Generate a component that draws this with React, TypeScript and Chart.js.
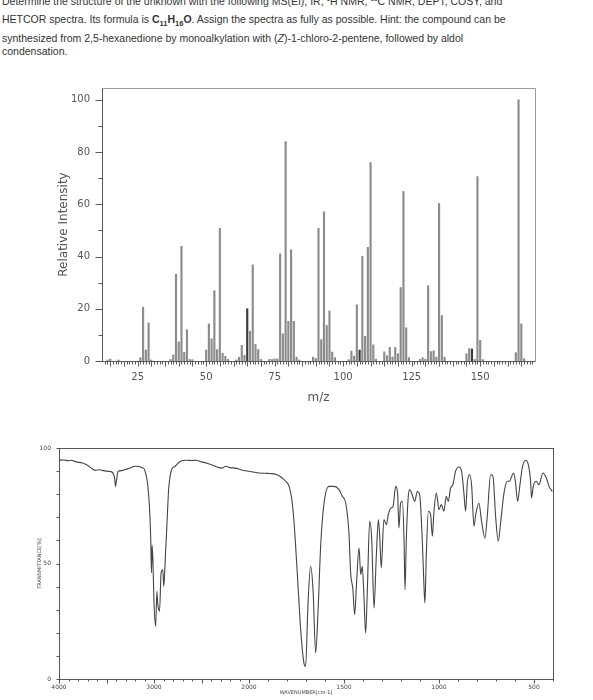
import React, { useEffect, useRef } from 'react';
import { Chart, registerables } from 'chart.js';

Chart.register(...registerables);

// ---------- Mass spectrum (EI) ----------
const msMz = [
  14, 15, 18, 26, 27, 28, 29, 30, 37, 38, 39, 40, 41, 42, 43, 44, 45,
  50, 51, 52, 53, 54, 55, 56, 57, 58, 61, 62, 63, 64, 65, 66, 67, 68, 69, 70,
  73, 74, 75, 76, 77, 78, 79, 80, 81, 82, 83, 84, 89, 90, 91, 92, 93, 94, 95,
  96, 97, 102, 103, 104, 105, 106, 107, 108, 109, 110, 111, 112, 115, 116, 117,
  118, 119, 120, 121, 122, 123, 124, 128, 129, 130, 131, 132, 133, 134, 135,
  136, 137, 145, 146, 147, 148, 149, 150, 151, 163, 164, 165, 166,
];
const msIntensity = [
  0.4, 0.7, 0.4, 1.3, 20.6, 4.2, 14.6, 0.4, 0.6, 2.3, 33.2, 7.3, 43.9, 3.3, 12.0, 0.6, 0.5,
  4.2, 14.2, 8.5, 26.9, 4.4, 50.8, 3.0, 1.8, 0.6, 0.4, 1.4, 6.0, 2.2, 20.0, 11.4, 36.8, 6.4, 4.4, 0.6,
  0.6, 0.6, 0.8, 0.8, 41.0, 10.4, 84.0, 15.2, 42.6, 15.2, 1.5, 0.4, 1.5, 1.0, 50.8, 8.2, 57.1, 13.6, 19.2,
  3.4, 1.3, 0.5, 3.8, 1.9, 21.5, 4.2, 40.1, 9.4, 43.5, 76.0, 6.2, 0.7, 3.5, 2.0, 5.2,
  1.5, 5.2, 2.8, 28.1, 64.9, 12.7, 1.3, 0.6, 1.3, 0.7, 28.8, 3.6, 3.9, 1.5, 60.3,
  17.4, 1.5, 2.8, 4.8, 4.6, 0.6, 70.6, 7.9, 0.5, 3.2, 100, 14.2, 0.9,
];
const msDarkPeaks = [65, 106, 147];
const msXTickLabels = [25, 50, 75, 100, 125, 150];
const msYTickLabels = [0, 20, 40, 60, 80, 100];

// ---------- IR spectrum ----------
const irWavenumber = [
  4000, 3950, 3900, 3873, 3820, 3753, 3700, 3650, 3616, 3580, 3548, 3479, 3440, 3415, 3405, 3395,
  3377, 3340, 3308, 3250, 3200, 3171, 3130, 3103, 3085, 3068, 3048, 3034, 3027, 3020, 3012, 3000,
  2983, 2969, 2962, 2950, 2942, 2925, 2907, 2897, 2880, 2863, 2846, 2830, 2812, 2777, 2726, 2657,
  2600, 2555, 2500, 2452, 2380, 2320, 2281, 2247, 2200, 2144, 2080, 2000, 1947, 1900, 1877, 1850,
  1825, 1800, 1789, 1775, 1763, 1746, 1728, 1711, 1702, 1690, 1676, 1663, 1649, 1637, 1623, 1605,
  1579, 1553, 1526, 1509, 1491, 1474, 1465, 1453, 1444, 1433, 1421, 1412, 1404, 1395, 1386, 1377,
  1365, 1354, 1342, 1330, 1319, 1312, 1304, 1290, 1277, 1267, 1254, 1242, 1228, 1218, 1211, 1202,
  1193, 1184, 1179, 1172, 1163, 1155, 1141, 1128, 1114, 1102, 1088, 1079, 1074, 1067, 1056, 1044,
  1035, 1027, 1014, 1000, 988, 974, 962, 951, 939, 927, 913, 895, 881, 869, 860, 851,
  839, 828, 816, 807, 790, 776, 758, 746, 728, 716, 702, 688, 676, 658, 641, 628,
  618, 606, 597, 586, 576, 562, 544, 530, 518, 513, 504, 488, 474, 453, 435, 421, 404,
];
const irTransmittance = [
  94.7, 94.8, 94.5, 94.7, 94.0, 93.5, 92.5, 91.0, 90.3, 90.6, 90.3, 89.9, 89.5, 87.0, 83.4, 86.0,
  89.9, 90.2, 90.6, 91.3, 92.1, 92.1, 91.5, 90.9, 88.5, 84.8, 74.7, 60.3, 46.0, 58.0, 52.0, 33.0,
  22.8, 38.0, 33.0, 30.0, 29.3, 45.9, 47.3, 40.1, 53.1, 67.5, 82.0, 88.0, 90.9, 92.1, 94.2, 94.7,
  94.6, 94.7, 94.0, 93.5, 92.5, 91.5, 91.3, 92.1, 91.5, 91.3, 90.5, 89.9, 89.2, 89.0, 88.9, 88.3,
  87.0, 85.0, 83.4, 78.0, 68.0, 46.0, 21.4, 6.9, 5.5, 31.5, 48.8, 38.7, 11.3, 28.6, 57.4, 76.2,
  83.4, 83.4, 82.0, 79.1, 76.2, 63.2, 45.9, 38.7, 27.8, 43.0, 56.7, 45.2, 48.8, 35.8, 19.9, 38.7,
  68.3, 60.3, 30.7, 53.1, 69.0, 61.8, 48.1, 69.0, 66.8, 71.1, 74.0, 74.7, 83.4, 80.5, 65.4, 76.2,
  76.9, 60.3, 38.7, 60.3, 77.6, 82.0, 79.8, 76.9, 81.2, 79.8, 60.3, 40.1, 32.9, 53.1, 72.6, 71.1,
  61.8, 71.9, 80.5, 73.3, 75.5, 72.6, 79.1, 76.9, 82.7, 84.1, 89.9, 91.8, 89.9, 80.5, 72.6, 84.8,
  88.5, 83.4, 66.1, 71.1, 76.2, 68.3, 61.0, 70.4, 88.5, 87.7, 70.4, 59.6, 67.5, 80.5, 85.6, 85.6,
  87.7, 89.2, 84.8, 76.9, 82.7, 91.3, 94.7, 92.8, 85.6, 78.4, 83.4, 85.6, 84.1, 89.2, 87.0, 83.4, 81.2,
];
const irXTickLabels = [4000, 3000, 2000, 1500, 1000, 500];
const irYTickLabels = [0, 50, 100];

// IR x axis uses two scales: 4000-2000 compressed 2:1, 2000-400 expanded
const toU = (wn: number) => (wn >= 2000 ? (4000 - wn) / 2 : 1000 + (2000 - wn));
const fromU = (u: number) => (u <= 1000 ? 4000 - 2 * u : 2000 - (u - 1000));

function line(ctx: CanvasRenderingContext2D, x1: number, y1: number, x2: number, y2: number) {
  ctx.beginPath();
  ctx.moveTo(x1, y1);
  ctx.lineTo(x2, y2);
  ctx.stroke();
}

const msDecor = {
  id: 'msDecor',
  afterDraw(chart: any) {
    const { ctx, chartArea: a, scales } = chart;
    const xs = scales.x;
    const ys = scales.y;
    const base = Math.round(ys.getPixelForValue(0)) + 0.5;
    const L = Math.round(a.left) + 0.5;
    const R = Math.round(a.right) + 0.5;
    const T = Math.round(a.top) + 0.5;
    ctx.save();
    ctx.lineWidth = 1;
    ctx.strokeStyle = '#9a9a9a';
    ctx.beginPath();
    ctx.moveTo(L, T);
    ctx.lineTo(R, T);
    ctx.lineTo(R, base);
    ctx.stroke();
    ctx.strokeStyle = '#5a5a5a';
    line(ctx, L, T, L, base);
    line(ctx, L, base, R, base);
    for (let v = 0; v <= 100; v += 10) {
      const y = Math.round(ys.getPixelForValue(v)) + 0.5;
      line(ctx, L - (v % 20 === 0 ? 7 : 4), y, L, y);
    }
    for (let m = 13; m <= 169; m++) {
      const x = Math.round(xs.getPixelForValue(m)) + 0.5;
      line(ctx, x, base, x, base + (m % 5 === 0 ? 5 : 3));
    }
    ctx.restore();
  },
};

const irDecor = {
  id: 'irDecor',
  afterDraw(chart: any) {
    const { ctx, chartArea: a, scales } = chart;
    const xs = scales.x;
    const ys = scales.y;
    const L = Math.round(a.left) + 0.5;
    const R = Math.round(a.right) + 0.5;
    const T = Math.round(a.top) + 0.5;
    const B = Math.round(a.bottom) + 0.5;
    ctx.save();
    ctx.lineWidth = 1;
    ctx.strokeStyle = '#555';
    ctx.strokeRect(L, T, R - L, B - T);
    for (let w = 4000; w >= 400; w -= 100) {
      const x = Math.round(xs.getPixelForValue(toU(w))) + 0.5;
      line(ctx, x, B, x, B + (w % 500 === 0 ? 4 : 2));
    }
    for (let v = 0; v <= 100; v += 10) {
      const y = Math.round(ys.getPixelForValue(v)) + 0.5;
      line(ctx, L - 3, y, L, y);
    }
    ctx.restore();
  },
};

function MsChart() {
  const ref = useRef<HTMLCanvasElement>(null);
  useEffect(() => {
    const chart = new Chart(ref.current as HTMLCanvasElement, {
      type: 'bar',
      data: {
        datasets: [
          {
            data: msMz.map((m, i) => ({ x: m, y: msIntensity[i] })),
            backgroundColor: (c: any) => (msDarkPeaks.includes(msMz[c.dataIndex]) ? '#3a3a3a' : '#8c8c8c'),
            barThickness: 1.5,
            borderWidth: 0,
          } as any,
        ],
      },
      options: {
        responsive: false,
        animation: false,
        devicePixelRatio: 1,
        events: [],
        layout: { padding: { top: 14, right: 58, left: 0, bottom: 0 } },
        plugins: { legend: { display: false }, tooltip: { enabled: false } },
        scales: {
          x: {
            type: 'linear',
            min: 12,
            max: 170,
            offset: false,
            grid: { display: false, drawTicks: false },
            border: { display: false },
            afterBuildTicks: (s: any) => {
              s.ticks = msXTickLabels.map((v) => ({ value: v }));
            },
            afterFit: (s: any) => {
              s.height = 59;
            },
            ticks: {
              autoSkip: false,
              maxRotation: 0,
              padding: 10,
              color: '#555',
              font: { family: 'DejaVu Sans', size: 10 },
            },
            title: {
              display: true,
              text: 'm/z',
              color: '#555',
              font: { family: 'DejaVu Sans', size: 12 },
              padding: { top: 0, bottom: 15 },
            },
          },
          y: {
            min: 0,
            max: 104.5,
            grid: { display: false, drawTicks: false },
            border: { display: false },
            afterBuildTicks: (s: any) => {
              s.ticks = msYTickLabels.map((v) => ({ value: v }));
            },
            afterFit: (s: any) => {
              s.width = 102;
            },
            ticks: {
              padding: 12,
              color: '#555',
              font: { family: 'DejaVu Sans', size: 10 },
            },
            title: {
              display: true,
              text: 'Relative Intensity',
              color: '#555',
              font: { family: 'DejaVu Sans', size: 12 },
              padding: { top: 57, bottom: 0 },
            },
          },
        },
      } as any,
      plugins: [msDecor],
    });
    return () => chart.destroy();
  }, []);
  return (
    <canvas
      ref={ref}
      width={593}
      height={350}
      style={{ position: 'absolute', left: 0, top: 70, width: 593, height: 350 }}
    />
  );
}

function IrChart() {
  const ref = useRef<HTMLCanvasElement>(null);
  useEffect(() => {
    const chart = new Chart(ref.current as HTMLCanvasElement, {
      type: 'line',
      data: {
        datasets: [
          {
            data: irWavenumber.map((w, i) => ({ x: toU(w), y: irTransmittance[i] })),
            borderColor: '#444',
            borderWidth: 1.1,
            pointRadius: 0,
            cubicInterpolationMode: 'monotone',
            fill: false,
          } as any,
        ],
      },
      options: {
        responsive: false,
        animation: false,
        devicePixelRatio: 1,
        events: [],
        layout: { padding: { top: 18, right: 40, left: 0, bottom: 0 } },
        plugins: { legend: { display: false }, tooltip: { enabled: false } },
        scales: {
          x: {
            type: 'linear',
            min: 0,
            max: 2600,
            grid: { display: false, drawTicks: false },
            border: { display: false },
            afterBuildTicks: (s: any) => {
              s.ticks = irXTickLabels.map((w) => ({ value: toU(w) }));
            },
            afterFit: (s: any) => {
              s.height = 21;
            },
            ticks: {
              autoSkip: false,
              maxRotation: 0,
              padding: 5,
              color: '#444',
              font: { family: 'DejaVu Sans', size: 6 },
              callback: (v: any) => String(fromU(Number(v))),
            },
            title: {
              display: true,
              text: 'WAVENUMBER[cm-1]',
              color: '#444',
              font: { family: 'DejaVu Sans', size: 5 },
              padding: { top: 0, bottom: 4 },
            },
          },
          y: {
            min: 0,
            max: 100,
            grid: { display: false, drawTicks: false },
            border: { display: false },
            afterBuildTicks: (s: any) => {
              s.ticks = irYTickLabels.map((v) => ({ value: v }));
            },
            afterFit: (s: any) => {
              s.width = 59;
            },
            ticks: {
              padding: 8,
              color: '#444',
              font: { family: 'DejaVu Sans', size: 6 },
            },
            title: {
              display: true,
              text: 'TRANSMITTANCE[%]',
              color: '#444',
              font: { family: 'DejaVu Sans', size: 5 },
              padding: { top: 37, bottom: 0 },
            },
          },
        },
      } as any,
      plugins: [irDecor],
    });
    return () => chart.destroy();
  }, []);
  return (
    <canvas
      ref={ref}
      width={593}
      height={270}
      style={{ position: 'absolute', left: 0, top: 430, width: 593, height: 270 }}
    />
  );
}

const textStyle: React.CSSProperties = {
  position: 'absolute',
  left: 2,
  whiteSpace: 'nowrap',
  fontFamily: '"Liberation Sans", Arial, sans-serif',
  fontSize: 10.5,
  lineHeight: '14px',
  color: '#333',
};

const supStyle: React.CSSProperties = { fontSize: 6.5, lineHeight: 0 };
const subStyle: React.CSSProperties = { fontSize: 7.5, lineHeight: 0 };

export default function App() {
  return (
    <div
      style={{
        position: 'absolute',
        left: 0,
        top: 0,
        width: 593,
        height: 700,
        overflow: 'hidden',
        background: '#fff',
      }}
    >
      <div style={{ ...textStyle, top: -6 }}>
        Determine the structure of the unknown with the following MS(EI), IR, <sup style={supStyle}>1</sup>H NMR,{' '}
        <sup style={supStyle}>13</sup>C NMR, DEPT, COSY, and
      </div>
      <div style={{ ...textStyle, top: 12 }}>
        HETCOR spectra. Its formula is{' '}
        <b>
          C<sub style={subStyle}>11</sub>H<sub style={subStyle}>16</sub>O
        </b>
        . Assign the spectra as fully as possible. Hint: the compound can be
      </div>
      <div style={{ ...textStyle, top: 31 }}>
        synthesized from 2,5-hexanedione by monoalkylation with (<i>Z</i>)-1-chloro-2-pentene, followed by aldol
      </div>
      <div style={{ ...textStyle, top: 44 }}>condensation.</div>
      <MsChart />
      <IrChart />
    </div>
  );
}
